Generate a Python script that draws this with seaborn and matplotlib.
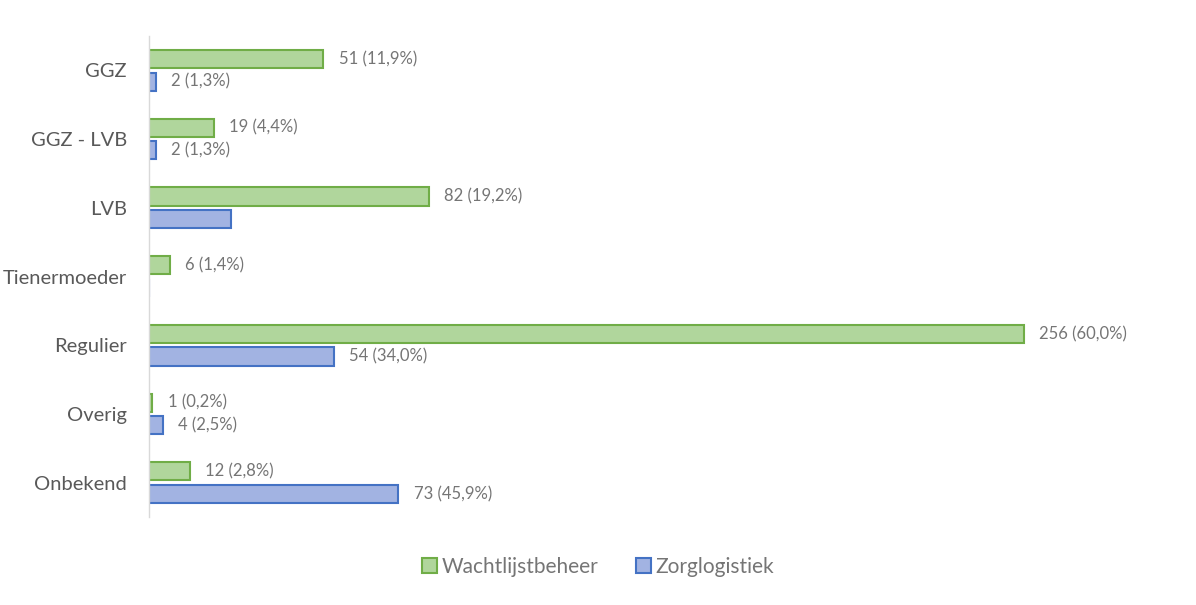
import pandas as pd
import matplotlib.pyplot as plt
import seaborn as sns
from matplotlib.patches import Patch

# data
categories = ['GGZ', 'GGZ - LVB', 'LVB', 'Tienermoeder', 'Regulier', 'Overig', 'Onbekend']
wachtlijst = [51, 19, 82, 6, 256, 1, 12]
wachtlijst_pct = ['11,9', '4,4', '19,2', '1,4', '60,0', '0,2', '2,8']
zorglog = [2, 2, 24, 0, 54, 4, 73]
zorglog_pct = ['1,3', '1,3', '', '', '34,0', '2,5', '45,9']
series = ['Wachtlijstbeheer', 'Zorglogistiek']

df = pd.DataFrame({
    'categorie': categories * 2,
    'aantal': wachtlijst + zorglog,
    'reeks': [series[0]] * len(categories) + [series[1]] * len(categories),
})

fills = {'Wachtlijstbeheer': '#B0D69C', 'Zorglogistiek': '#A2B3E2'}
edges = {'Wachtlijstbeheer': '#70AD47', 'Zorglogistiek': '#4472C4'}
grey = '#595959'
lblgrey = '#757575'

sns.set_theme(style='white')
plt.rcParams['font.family'] = ['Lato', 'DejaVu Sans']

fig = plt.figure(figsize=(11.96, 6.05), dpi=100)
ax = fig.add_axes([149 / 1196, 1 - 517 / 605, 1025 / 1196, 481 / 605])

sns.barplot(data=df, y='categorie', x='aantal', hue='reeks', order=categories,
            hue_order=series, palette=fills, saturation=1, orient='h', width=0.66,
            gap=0.2, legend=False, ax=ax)

for cont, name, vals, pcts in zip(ax.containers, series, [wachtlijst, zorglog],
                                  [wachtlijst_pct, zorglog_pct]):
    for bar in cont:
        bar.set_edgecolor(edges[name])
        bar.set_linewidth(1.5)
    labels = [f'{v} ({p}%)' if p else '' for v, p in zip(vals, pcts)]
    ax.bar_label(cont, labels=labels, padding=11, color=lblgrey, fontsize=12)

ax.set_xlim(0, 300)
ax.set_ylim(6.5, -0.5)
ax.set_xlabel('')
ax.set_ylabel('')
ax.set_xticks([])
ax.tick_params(axis='y', length=0, pad=16, labelsize=14.5, labelcolor=grey)
for s in ['top', 'right', 'bottom']:
    ax.spines[s].set_visible(False)
ax.spines['left'].set_color('#D9D9D9')
ax.spines['left'].set_linewidth(1)

handles = [Patch(facecolor=fills[s], edgecolor=edges[s], linewidth=1.5, label=s) for s in series]
fig.legend(handles=handles, loc='center', bbox_to_anchor=(0.5, 1 - 567 / 605), ncol=2,
           frameon=False, fontsize=15, labelcolor=lblgrey, handlelength=0.75, handleheight=0.75,
           handletextpad=0.2, columnspacing=1.8)

fig.savefig('out.png', dpi=100)
